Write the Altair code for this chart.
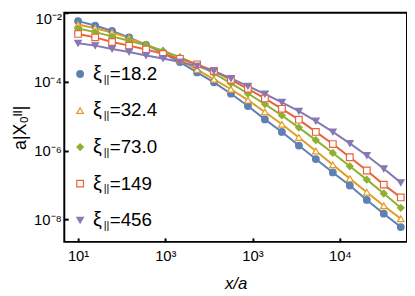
import altair as alt
import pandas as pd

# ---- data ----
x_vals = [10, 15.7, 24.5, 38.4, 60.1, 94.1, 147, 231, 361, 565, 885, 1385,
          2168, 3394, 5313, 8318, 13021, 20384, 31910, 50000]
series_names = ["18.2", "32.4", "73.0", "149", "456"]
y_182 = [5.89e-3, 4.37e-3, 3.04e-3, 1.98e-3, 1.20e-3, 6.86e-4, 3.78e-4, 1.89e-4,
         9.74e-5, 4.55e-5, 1.99e-5, 8.15e-6, 3.52e-6, 1.41e-6, 5.70e-7, 2.33e-7,
         9.67e-8, 3.71e-8, 1.47e-8, 6.01e-9]
y_324 = [4.67e-3, 3.66e-3, 2.75e-3, 1.91e-3, 1.24e-3, 7.57e-4, 4.32e-4, 2.30e-4,
         1.19e-4, 6.13e-5, 2.96e-5, 1.34e-5, 5.85e-6, 2.43e-6, 9.80e-7, 3.88e-7,
         1.54e-7, 6.21e-8, 2.49e-8, 1.05e-8]
y_730 = [3.59e-3, 2.81e-3, 2.11e-3, 1.57e-3, 1.17e-3, 8.09e-4, 5.26e-4, 3.20e-4,
         1.77e-4, 9.12e-5, 4.61e-5, 2.27e-5, 1.06e-5, 4.70e-6, 2.03e-6, 8.59e-7,
         3.52e-7, 1.44e-7, 5.70e-8, 2.18e-8]
y_149 = [2.49e-3, 1.98e-3, 1.45e-3, 1.14e-3, 8.76e-4, 6.55e-4, 4.70e-4, 3.25e-4,
         2.08e-4, 1.15e-4, 6.33e-5, 3.31e-5, 1.65e-5, 7.99e-6, 3.52e-6, 1.56e-6,
         6.46e-7, 2.66e-7, 1.03e-7, 4.37e-8]
y_456 = [1.33e-3, 1.14e-3, 9.12e-4, 7.47e-4, 5.89e-4, 4.83e-4, 3.78e-4, 2.90e-4,
         2.08e-4, 1.27e-4, 7.57e-5, 4.46e-5, 2.56e-5, 1.41e-5, 7.28e-6, 3.52e-6,
         1.63e-6, 7.28e-7, 2.98e-7, 1.18e-7]
x_tick_values = [10, 100, 1000, 10000]
x_tick_labels = ["10¹", "10³", "10³", "10⁴"]
y_tick_values = [1e-8, 1e-6, 1e-4, 1e-2]
y_tick_labels = ["10⁻⁸", "10⁻⁶", "10⁻⁴", "10⁻²"]

colors = ["#5E81B5", "#E19C24", "#8FB032", "#EB6235", "#8778B3"]
shapes = ["circle", "triangle-up", "diamond", "square", "triangle-down"]
fills = [colors[0], "white", colors[2], "white", colors[4]]

all_y = [y_182, y_324, y_730, y_149, y_456]
rows = []
for name, ys in zip(series_names, all_y):
    for xv, yv in zip(x_vals, ys):
        rows.append({"x": xv, "y": yv, "series": name})
df = pd.DataFrame(rows)
leg = pd.DataFrame({"series": series_names, "rank": list(range(len(series_names)))})

FONT = "Liberation Sans"

def lab_expr(labels):
    return "[" + ",".join("'" + s + "'" for s in labels) + "]"

x_scale = alt.Scale(type="log", domain=[6.95, 58900], nice=False)
y_scale = alt.Scale(type="log", domain=[2.23e-9, 1.03e-2], nice=False)

x_axis = alt.Axis(values=x_tick_values,
                  labelExpr=lab_expr(x_tick_labels) + "[round(log(datum.value)/LN10)-1]",
                  title="x/a", titleFontStyle="italic", titleFontWeight="normal",
                  titleFontSize=17, titleFont=FONT, titleColor="black", titlePadding=12,
                  grid=False, domain=False, tickSize=4, tickWidth=2, tickColor="black",
                  offset=-4, labelFontSize=15, labelFont=FONT, labelColor="black",
                  labelPadding=7, labelFlush=False, labelOverlap=False)
y_axis = alt.Axis(values=y_tick_values,
                  labelExpr=lab_expr(y_tick_labels) + "[round(log(datum.value)/LN10)/2+4]",
                  labelOffset={"condition": {"test": "datum.value > 0.005", "value": 5},
                               "value": 0},
                  title="a|X₀ᴵᴵ|", titleFontWeight="normal", titleFontSize=18,
                  titleFont=FONT, titleColor="black", titlePadding=4,
                  grid=False, domain=False, tickSize=4, tickWidth=2, tickColor="black",
                  offset=-4, labelFontSize=15, labelFont=FONT, labelColor="black",
                  labelPadding=3, labelFlush=False, labelOverlap=False)

color_sc = alt.Scale(domain=series_names, range=colors)
shape_sc = alt.Scale(domain=series_names, range=shapes)
fill_sc = alt.Scale(domain=series_names, range=fills)

base = alt.Chart(df)
lines = base.mark_line(strokeWidth=2).encode(
    x=alt.X("x:Q", scale=x_scale, axis=x_axis),
    y=alt.Y("y:Q", scale=y_scale, axis=y_axis),
    color=alt.Color("series:N", scale=color_sc, legend=None),
    order="x:Q",
)
points = base.mark_point(filled=True, size=45, strokeWidth=1.2, opacity=1).encode(
    x=alt.X("x:Q", scale=x_scale),
    y=alt.Y("y:Q", scale=y_scale),
    shape=alt.Shape("series:N", scale=shape_sc, legend=None),
    fill=alt.Fill("series:N", scale=fill_sc, legend=None),
    stroke=alt.Stroke("series:N", scale=color_sc, legend=None),
)

lbase = alt.Chart(leg).transform_calculate(
    ly="62 + 37*datum.rank", lab="'=' + datum.series")
leg_pts = lbase.mark_point(filled=True, size=45, strokeWidth=1.2, opacity=1).encode(
    x=alt.value(16), y=alt.Y("ly:Q", scale=None),
    shape=alt.Shape("series:N", scale=shape_sc, legend=None),
    fill=alt.Fill("series:N", scale=fill_sc, legend=None),
    stroke=alt.Stroke("series:N", scale=color_sc, legend=None),
)
leg_xi = lbase.mark_text(text="ξ", fontSize=20, font=FONT, align="left",
                         baseline="middle", color="black").encode(
    x=alt.value(29), y=alt.Y("ly:Q", scale=None))
leg_sub = lbase.mark_text(text="||", fontSize=11, font=FONT, align="left",
                          baseline="middle", dy=6, color="black").encode(
    x=alt.value(40), y=alt.Y("ly:Q", scale=None))
leg_lab = lbase.mark_text(fontSize=19, font=FONT, align="left",
                          baseline="middle", color="black").encode(
    x=alt.value(46), y=alt.Y("ly:Q", scale=None), text="lab:N")

chart = alt.layer(lines, points, leg_pts, leg_xi, leg_sub, leg_lab).resolve_scale(
    shape="shared", fill="shared", stroke="shared"
).properties(
    width=347, height=232,
    autosize=alt.AutoSizeParams(type="none"),
    padding={"left": 57, "top": 3, "right": 0, "bottom": 52},
).configure_view(stroke="black", strokeWidth=2)

chart.save("out.html", embed_options={"renderer": "svg", "actions": False})
